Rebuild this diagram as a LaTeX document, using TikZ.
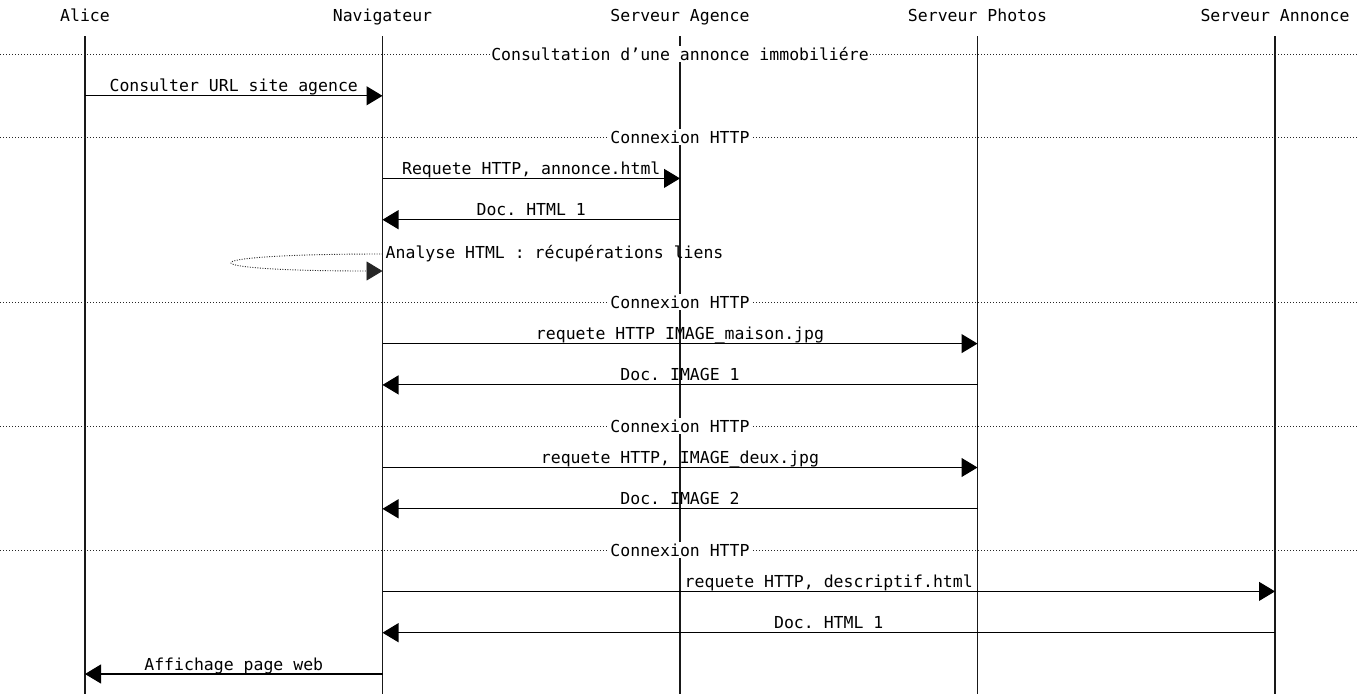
\documentclass[tikz,border=0pt]{standalone}
\usepackage{fontspec}
\setmonofont{DejaVu Sans Mono}
\usetikzlibrary{arrows.meta}

% message between two lifelines: name, from, to, y, label
\newcommand\seqmsg[5]{%
  \draw[msg] (#2 |- 0,#4) -- (#3 |- 0,#4) node[midway, msglabel] (#1) {#5};}
% dotted separator across the chart: name, y, label
\newcommand\seqsep[3]{%
  \draw[sep] (west |- 0,#2) -- (east |- 0,#2);
  \node[seplabel, yshift=-6pt] (#1) at (agence |- 0,#2) {#3};}

\begin{document}
\begin{tikzpicture}[x=1pt, y=-1pt,
  every node/.style={font=\ttfamily\fontsize{16.5}{18}\selectfont, inner sep=0pt},
  head/.style={anchor=base},
  life/.style={line width=1.1pt, black!90},
  sep/.style={line width=1pt, black!85, dash pattern=on 1pt off 2pt},
  seplabel/.style={fill=white, anchor=base, inner xsep=1pt, inner ysep=1.5pt, text depth=0pt},
  msg/.style={line width=1.1pt, black, -{Triangle[length=16pt, width=19pt]}},
  msglabel/.style={anchor=base, yshift=4pt},
  selfmsg/.style={line width=0.9pt, black!85, dash pattern=on 1pt off 1.5pt,
                  -{Triangle[length=16pt, width=19pt]}}
]
\useasboundingbox (0,0) rectangle (1358,694);
\coordinate (west) at (0,0);
\coordinate (east) at (1358,0);

% participants
\node[head] (alice)   at (85,21)     {Alice};
\node[head] (nav)     at (382.5,21)  {Navigateur};
\node[head] (agence)  at (680,21)    {Serveur Agence};
\node[head] (photos)  at (977.5,21)  {Serveur Photos};
\node[head] (annonce) at (1275,21)   {Serveur Annonce};

% lifelines
\foreach \p in {alice, nav, agence, photos, annonce}
  \draw[life] (\p |- 0,36) -- (\p |- 0,694);

% consultation
\seqsep{s1}{54.5}{Consultation d’une annonce immobiliére}
\seqmsg{m1}{alice}{nav}{95.8}{Consulter URL site agence}

% page request
\seqsep{s2}{137.1}{Connexion HTTP}
\seqmsg{m2}{nav}{agence}{178.4}{Requete HTTP, annonce.html}
\seqmsg{m3}{agence}{nav}{219.7}{Doc. HTML 1}

% link parsing in the browser
\draw[selfmsg] (nav |- 0,254) .. controls (183,254) and (183,271) .. (nav |- 0,271);
\node[anchor=base west, xshift=3pt] (parse) at (nav |- 0,258)
  {Analyse HTML : récupérations liens};

% first image
\seqsep{s3}{302.3}{Connexion HTTP}
\seqmsg{m4}{nav}{photos}{343.6}{requete HTTP IMAGE\_maison.jpg}
\seqmsg{m5}{photos}{nav}{384.9}{Doc. IMAGE 1}

% second image
\seqsep{s4}{426.2}{Connexion HTTP}
\seqmsg{m6}{nav}{photos}{467.5}{requete HTTP, IMAGE\_deux.jpg}
\seqmsg{m7}{photos}{nav}{508.8}{Doc. IMAGE 2}

% description
\seqsep{s5}{550.1}{Connexion HTTP}
\seqmsg{m8}{nav}{annonce}{591.4}{requete HTTP, descriptif.html}
\seqmsg{m9}{annonce}{nav}{632.7}{Doc. HTML 1}

% display
\seqmsg{m10}{nav}{alice}{674}{Affichage page web}
\end{tikzpicture}
\end{document}
